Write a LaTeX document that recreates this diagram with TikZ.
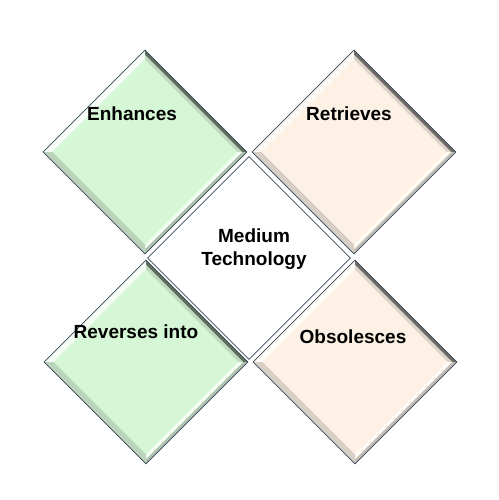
\documentclass[tikz,border=0pt]{standalone}
\usepackage{fontspec}
\setmainfont{Liberation Sans}
\usetikzlibrary{shapes.geometric,calc}
\definecolor{gfill}{RGB}{213,247,213}
\definecolor{bfill}{RGB}{252,241,228}
\definecolor{edge}{RGB}{58,72,92}
\tikzset{
  dia/.style={diamond, aspect=1, minimum width=203pt, minimum height=203pt, inner sep=0pt, draw=edge, line width=0.8pt},
  lbl/.style={font=\fontsize{19}{23}\selectfont\bfseries, align=center, text=black}
}
\newcommand\bevelstrips[2]{%
  \coordinate (#1-n) at ($(#1.center)!0.91!(#1.north)$);
  \coordinate (#1-e) at ($(#1.center)!0.91!(#1.east)$);
  \coordinate (#1-s) at ($(#1.center)!0.91!(#1.south)$);
  \coordinate (#1-w) at ($(#1.center)!0.91!(#1.west)$);
  \coordinate (#1-n2) at ($(#1.center)!0.955!(#1.north)$);
  \coordinate (#1-e2) at ($(#1.center)!0.955!(#1.east)$);
  \coordinate (#1-s2) at ($(#1.center)!0.955!(#1.south)$);
  \coordinate (#1-w2) at ($(#1.center)!0.955!(#1.west)$);
  \fill[#2!25!white] (#1.west) -- (#1.north) -- (#1-n) -- (#1-w) -- cycle;
  \fill[#2!75!gray] (#1-n) -- (#1-n2) -- (#1-e2) -- (#1-e) -- cycle;
  \fill[#2!45!black] (#1-n2) -- (#1.north) -- (#1.east) -- (#1-e2) -- cycle;
  \fill[#2!30!white] (#1-e) -- (#1-e2) -- (#1-s2) -- (#1-s) -- cycle;
  \fill[#2!55!gray] (#1-e2) -- (#1.east) -- (#1.south) -- (#1-s2) -- cycle;
  \fill[#2!70!gray] (#1.south) -- (#1.west) -- (#1-w) -- (#1-s) -- cycle;
  \draw[edge, line width=0.8pt] (#1.north) -- (#1.east) -- (#1.south) -- (#1.west) -- cycle;
}
\begin{document}
\begin{tikzpicture}[x=1pt, y=-1pt]
\useasboundingbox[fill=white] (0,0) rectangle (498,500);
\node[dia, fill=gfill] (enh) at (145,152) {};
\bevelstrips{enh}{gfill}
\node[dia, fill=bfill] (ret) at (354,152) {};
\bevelstrips{ret}{bfill}
\node[dia, fill=gfill] (rev) at (146,362) {};
\bevelstrips{rev}{gfill}
\node[dia, fill=bfill] (obs) at (355,362) {};
\bevelstrips{obs}{bfill}
\node[dia, fill=white, line width=0.7pt] (med) at (249,258) {};
\node[lbl] (tenh) at (132,114) {Enhances};
\node[lbl] (tret) at (349,114) {Retrieves};
\node[lbl] (trev) at (136,332) {Reverses into};
\node[lbl] (tobs) at (353,337) {Obsolesces};
\node[lbl] (tmed) at (254,249) {Medium\\Technology};
\end{tikzpicture}
\end{document}
